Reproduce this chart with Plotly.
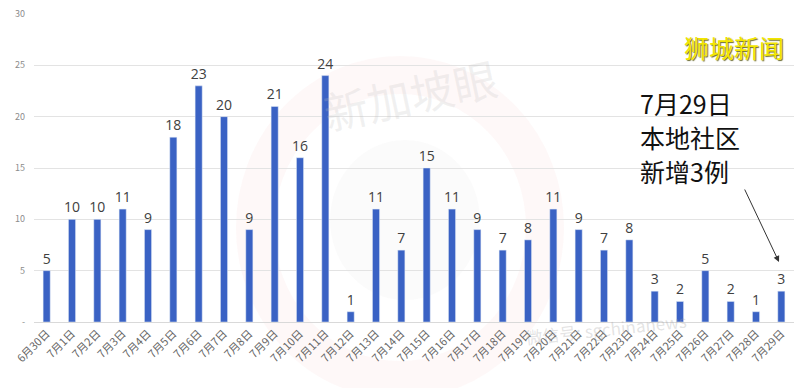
import plotly.graph_objects as go

dates = ["6月30日"] + [f"7月{d}日" for d in range(1, 30)]
cases = [5, 10, 10, 11, 9, 18, 23, 20, 9, 21, 16, 24, 1, 11, 7, 15, 11, 9, 7, 8,
         11, 9, 7, 8, 3, 2, 5, 2, 1, 3]
y_ticks = [0, 5, 10, 15, 20, 25, 30]
callout_lines = ["7月29日", "本地社区", "新增3例"]

W, H = 800, 388
L, R, T, B = 34, 6, 14, 66

def px(x):
    return (x - L) / (W - L - R)

def py(y):
    return 1 - (y - T) / (H - T - B)

fig = go.Figure()
fig.add_trace(go.Bar(
    x=dates, y=cases,
    marker=dict(color="#3A62C4"),
    text=[str(v) for v in cases], textposition="outside",
    textfont=dict(size=14, color="#404040", family="Open Sans"),
    constraintext="none", cliponaxis=False,
))

fig.update_layout(
    width=W, height=H,
    margin=dict(l=L, r=R, t=T, b=B, autoexpand=False),
    paper_bgcolor="white", plot_bgcolor="rgba(0,0,0,0)",
    showlegend=False, bargap=0.72,
    font=dict(family="Noto Sans CJK SC"),
    xaxis=dict(type="category", tickangle=-45, showgrid=False, automargin=False,
               tickfont=dict(size=11, color="#666666", family="Noto Sans CJK SC"),
               showline=True, linecolor="#D9D9D9", linewidth=1, ticks=""),
    yaxis=dict(range=[0, 30], tickvals=y_ticks, ticktext=[str(v) if v else "-" for v in y_ticks],
               showgrid=True, gridcolor="#E3E3E3", gridwidth=1, zeroline=False, automargin=False,
               tickfont=dict(size=9, color="#8C8C8C"), ticklabelstandoff=8),
)

# faint watermark: circle + text
fig.add_shape(type="circle", xref="paper", yref="paper", layer="below",
              x0=px(255), x1=px(545), y0=py(380), y1=py(75),
              line=dict(color="rgba(240,160,160,0.08)", width=38))
fig.add_shape(type="circle", xref="paper", yref="paper", layer="below",
              x0=px(330), x1=px(480), y0=py(300), y1=py(140),
              fillcolor="rgba(200,200,200,0.08)", line=dict(width=0))
fig.add_annotation(xref="paper", yref="paper", x=px(410), y=py(42), text="新加坡眼",
                   showarrow=False, textangle=-12,
                   font=dict(size=44, color="rgba(190,190,190,0.22)", family="Noto Sans CJK SC"))
fig.add_annotation(xref="paper", yref="paper", x=px(690), y=py(352), text="微信号: sgchinanews",
                   showarrow=False, textangle=-6,
                   font=dict(size=17, color="rgba(160,160,160,0.3)", family="Noto Sans CJK SC"))

# brand
fig.add_annotation(xref="paper", yref="paper", x=px(786), y=py(27), xanchor="right",
                   text="狮城新闻", showarrow=False,
                   font=dict(size=25, color="#F3E600", family="Noto Sans CJK SC",
                             shadow="1px 1px 1px #6b6b30"))

# callout
for i, line in enumerate(callout_lines):
    fig.add_annotation(xref="paper", yref="paper", x=px(638), y=py(103 + 34 * i),
                       xanchor="left", yanchor="middle", showarrow=False, text=line,
                       font=dict(size=25, color="#111111", family="Noto Sans CJK SC"))
fig.add_annotation(xref="paper", yref="paper", x=px(779), y=py(262),
                   ax=-35, ay=-74, text="", showarrow=True,
                   arrowhead=2, arrowsize=1.2, arrowwidth=1, arrowcolor="#333333")

fig.write_html("out.html", config={"displayModeBar": False},
               post_script="document.body.style.margin='0';")
